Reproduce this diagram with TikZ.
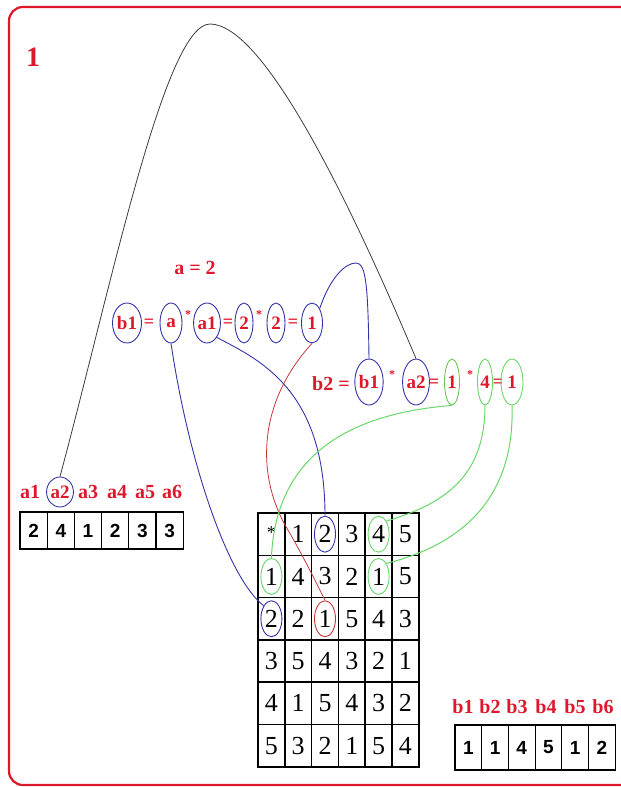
\documentclass[tikz,border=0pt]{standalone}
\usepackage{fontspec}
\setmainfont{Liberation Serif}
\newfontfamily\arialf{Liberation Sans}
\usetikzlibrary{shapes.geometric}
\definecolor{lblred}{RGB}{222,24,44}
\definecolor{cblue}{RGB}{52,52,168}
\definecolor{cgreen}{RGB}{104,214,104}
\definecolor{cred}{RGB}{196,56,56}
\definecolor{arcgray}{RGB}{60,60,60}
\begin{document}
\begin{tikzpicture}[x=1pt,y=-1pt,
  lbl/.style={text=lblred,font=\bfseries\fontsize{20}{20}\selectfont,inner sep=0pt},
  op/.style={text=lblred,font=\bfseries\fontsize{18}{18}\selectfont,inner sep=0pt},
  star/.style={text=lblred,font=\bfseries\fontsize{12}{12}\selectfont,inner sep=0pt},
  ell/.style={ellipse,draw=cblue,line width=0.9pt,inner sep=0pt,minimum height=40pt,
    text=lblred,font=\bfseries\fontsize{19}{19}\selectfont},
  ellb/.style={ell,minimum height=46pt},
  tcell/.style={rectangle,draw=black,line width=1.6pt,minimum width=26.8pt,minimum height=42.3pt,
    inner sep=0pt,font=\fontsize{26}{26}\selectfont},
  acell/.style={rectangle,draw=black,line width=1.1pt,minimum width=27.2pt,minimum height=37pt,
    inner sep=0pt,font=\arialf\bfseries\fontsize{19}{19}\selectfont},
  bcell/.style={acell,minimum width=26.7pt,minimum height=45pt},
  tcirc/.style={ellipse,line width=0.9pt,inner sep=0pt,minimum width=21pt,minimum height=36pt},
  cb/.style={draw=cblue,line width=0.9pt},
  cg/.style={draw=cgreen,line width=1pt},
  cr/.style={draw=cred,line width=0.8pt},
  blk/.style={draw=arcgray,line width=0.8pt}
]
\useasboundingbox (0,0) rectangle (621,787);
% frame
\draw[lblred,line width=2.2pt,rounded corners=14pt] (9,7) rectangle (634,785);
\node[text=lblred,font=\bfseries\fontsize{28}{28}\selectfont,inner sep=0pt] (title) at (33,57) {1};

% a = 2
\node[lbl] (aeq) at (195,268) {a = 2};

% equation 1
\node[ell,minimum width=29pt] (e1b1) at (127,323) {b1};
\node[op] (e1eqa) at (149,323) {=};
\node[ell,minimum width=22pt] (e1a) at (171,323) {a};
\node[star] (e1s1) at (188,315) {*};
\node[ell,minimum width=26pt] (e1a1) at (207,323) {a1};
\node[op] (e1eqb) at (228,323) {=};
\node[ell,minimum width=18pt] (e1two) at (244,323) {2};
\node[star] (e1s2) at (259,315) {*};
\node[ell,minimum width=18pt] (e1twob) at (276,323) {2};
\node[op] (e1eqc) at (293,323) {=};
\node[ell,minimum width=21pt] (e1one) at (312,323) {1};

% equation 2
\node[lbl] (e2lbl) at (331,384) {b2 =};
\node[ellb,minimum width=27pt] (e2b1) at (369,382) {b1};
\node[star] (e2s1) at (392,375) {*};
\node[ellb,minimum width=25pt] (e2a2) at (416,382) {a2};
\node[op] (e2eqa) at (434,383) {=};
\node[ellb,draw=cgreen!80!olive,minimum width=15pt] (e2one) at (452,382) {1};
\node[star] (e2s2) at (470,375) {*};
\node[ellb,draw=cgreen,minimum width=15pt] (e2four) at (485,382) {4};
\node[op] (e2eqb) at (498,383) {=};
\node[ellb,draw=cgreen,minimum width=22pt] (e2res) at (512,382) {1};

% a labels and array
\node[lbl] (la1) at (30,492) {a1};
\node[ell,minimum width=21pt,minimum height=30pt] (la2) at (60,492) {a2};
\node[lbl] (la3) at (88,492) {a3};
\node[lbl] (la4) at (117,492) {a4};
\node[lbl] (la5) at (145,492) {a5};
\node[lbl] (la6) at (172,492) {a6};
\foreach \v [count=\i] in {2,4,1,2,3,3}
  \node[acell] (arr\i) at ({20+13.6+27.2*(\i-1)},530.5) {\v};

% b labels and array
\foreach \i/\xx in {1/463,2/490,3/517,4/546,5/575,6/603}
  \node[lbl] (lb\i) at (\xx,707) {b\i};
\foreach \v [count=\i] in {1,1,4,5,1,2}
  \node[bcell] (brr\i) at ({455+13.35+26.7*(\i-1)},747.5) {\v};

% table
\foreach \row [count=\r] in {{{\raisebox{3pt}{\fontsize{18}{18}\selectfont *}},1,2,3,4,5},{1,4,3,2,1,5},{2,2,1,5,4,3},{3,5,4,3,2,1},{4,1,5,4,3,2},{5,3,2,1,5,4}}
  \foreach \v [count=\c] in \row
    \node[tcell] (t\r\c) at ({258+13.4+26.8*(\c-1)},{513+21.15+42.3*(\r-1)}) {\v};
\node[tcirc,draw=cblue] (tc13) at (t13) {};
\node[tcirc,draw=cgreen] (tc15) at (t15) {};
\node[tcirc,draw=cgreen] (tc21) at (t21) {};
\node[tcirc,draw=cgreen] (tc25) at (t25) {};
\node[tcirc,draw=cblue] (tc31) at (t31) {};
\node[tcirc,draw=cred] (tc33) at (t33) {};

% connectors
\coordinate (peak) at (210,24);
\draw[blk] (la2.north) .. controls (112,283) and (165,24) .. (peak)
  .. controls (262,24) and (345,190) .. (e2a2.north);
\coordinate (bend) at (356,263);
\draw[cb] (e1one.north east) .. controls (330,278) and (345,263) .. (bend)
  .. controls (366,263) and (368,285) .. (e2b1.north);
\draw[cb] (e1a.south) .. controls (190,470) and (230,580) .. (tc31.north west);
\draw[cb] (e1a1.south east) .. controls (260,360) and (325,390) .. (tc13.north);
\coordinate (redmid) at (285,525);
\draw[cr] (e1one.south) .. controls (260,400) and (255,470) .. (redmid)
  .. controls (300,550) and (315,580) .. (tc33.north);
\draw[cg] (e2one.south) .. controls (330,415) and (275,470) .. (tc21.north);
\draw[cg] (e2four.south) .. controls (485,480) and (440,505) .. (tc15.north east);
\draw[cg] (e2res.south) .. controls (515,500) and (460,545) .. (tc25.north east);
\end{tikzpicture}
\end{document}
